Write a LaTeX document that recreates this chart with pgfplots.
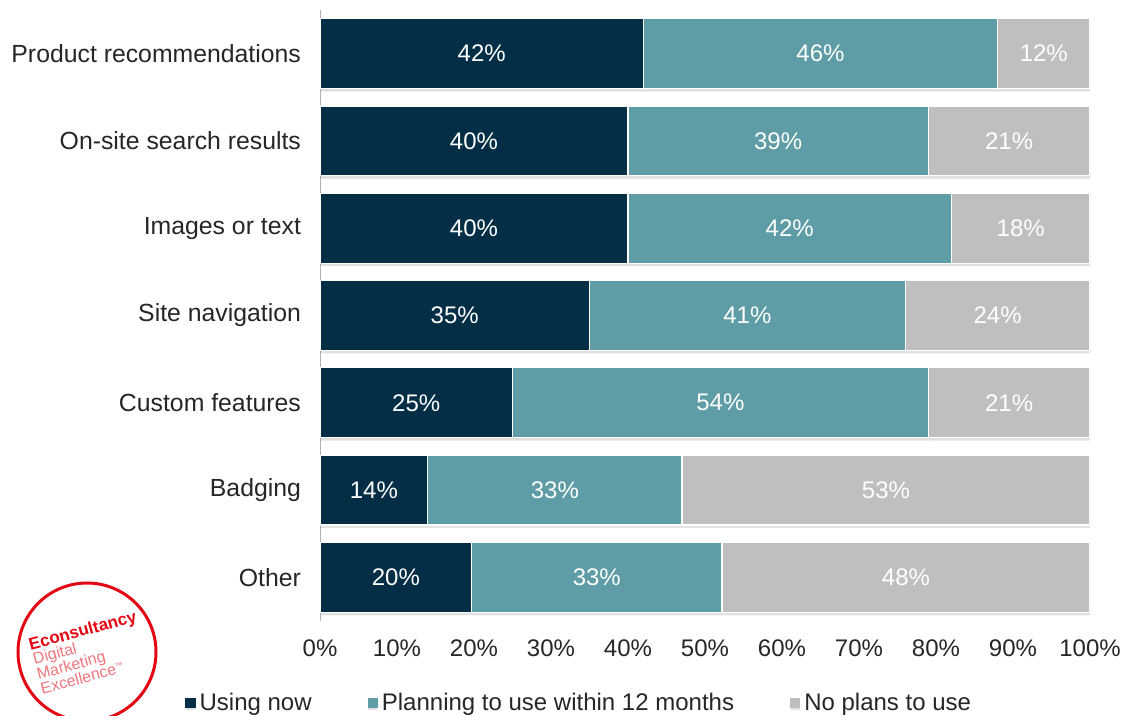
\documentclass[border=0pt]{standalone}
\usepackage{pgfplots}
\pgfplotsset{compat=1.18}
\usepackage{fontspec}
\setmainfont{Liberation Sans}
\definecolor{cNavy}{HTML}{032E45}
\definecolor{cTeal}{HTML}{5E9DA6}
\definecolor{cGray}{HTML}{BFBFBF}
\definecolor{cText}{HTML}{262626}
\definecolor{cRed}{HTML}{E30613}
\begin{document}
\begin{tikzpicture}[x=1pt,y=1pt]
\path[use as bounding box] (0,0) rectangle (566.5,358);
\begin{axis}[
  at={(160pt,47.5pt)}, anchor=south west,
  scale only axis, width=385pt, height=305.5pt,
  xbar stacked, bar width=0.8,
  xmin=0, xmax=100, ymin=-0.5, ymax=6.5,
  ytick={0,...,6},
  yticklabels={Other,Badging,Custom features,Site navigation,Images or text,On-site search results,Product recommendations},
  xtick={0,10,...,100},
  xticklabels={0\%,10\%,20\%,30\%,40\%,50\%,60\%,70\%,80\%,90\%,100\%},
  major tick length=0pt,
  axis x line=bottom, axis y line=left,
  x axis line style={draw=none},
  y axis line style={draw=gray!60, -},
  ticklabel style={font=\fontsize{12}{14}\selectfont, text=cText},
  yticklabel style={xshift=-6pt, font=\fontsize{12.4}{14}\selectfont},
  xticklabel style={yshift=-6pt},
  nodes near coords, point meta=explicit symbolic,
  every node near coord/.append style={font=\fontsize{12}{14}\selectfont, text=white},
  legend style={at={(0.338,-0.134)}, anchor=center, draw=none, fill=none,
    font=\fontsize{12}{14}\selectfont, text=cText,
    /tikz/every even column/.append style={column sep=26pt}},
  legend columns=3,
  every axis plot/.append style={draw=white, line width=0.6pt,
    preaction={fill=black, opacity=0.12, transform canvas={yshift=-1.5pt}}},
]
\addplot[fill=cNavy,
  legend image code/.code={\fill[cNavy] (0pt,-2.25pt) rectangle (4.5pt,2.25pt);}]
  coordinates {(19.7,0) [20\%] (14,1) [14\%] (25,2) [25\%] (35,3) [35\%] (40,4) [40\%] (40,5) [40\%] (42,6) [42\%]};
\addplot[fill=cTeal,
  legend image code/.code={\fill[cTeal] (0pt,-2.25pt) rectangle (4.5pt,2.25pt);}]
  coordinates {(32.5,0) [33\%] (33,1) [33\%] (54,2) [54\%] (41,3) [41\%] (42,4) [42\%] (39,5) [39\%] (46,6) [46\%]};
\addplot[fill=cGray,
  legend image code/.code={\fill[cGray] (0pt,-2.25pt) rectangle (4.5pt,2.25pt);}]
  coordinates {(47.8,0) [48\%] (53,1) [53\%] (21,2) [21\%] (24,3) [24\%] (18,4) [18\%] (21,5) [21\%] (12,6) [12\%]};
\legend{Using now, Planning to use within 12 months, No plans to use}
\end{axis}
\draw[cRed, line width=1.5pt] (43.5,32) circle (34.5);
\node[rotate=15, align=left, anchor=north west, inner sep=0pt,
  font=\fontsize{8}{7.6}\selectfont, text=cRed!55] at (13.5,39)
  {{\fontsize{8.5}{9}\selectfont\bfseries\textcolor{cRed}{Econsultancy}}\\
   Digital\\
   Marketing\\
   Excellence\raisebox{0.6ex}{\fontsize{4}{4}\selectfont\texttrademark}};
\end{tikzpicture}
\end{document}
